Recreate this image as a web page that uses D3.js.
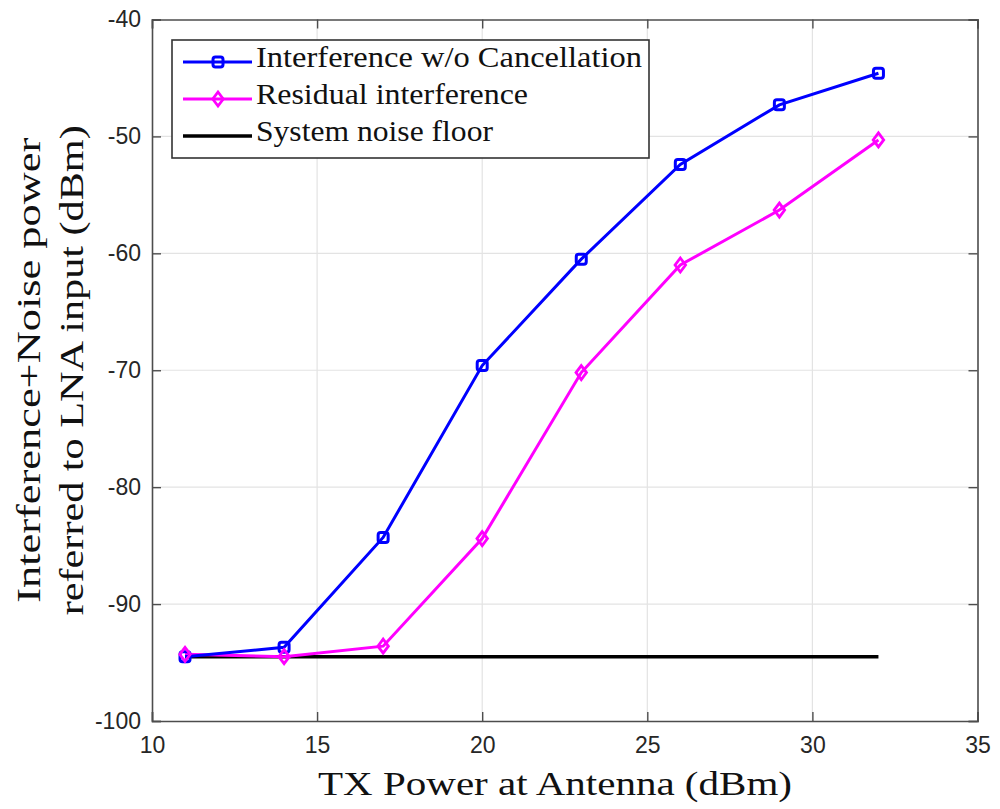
<!DOCTYPE html>
<html>
<head>
<meta charset="utf-8">
<script src="https://cdn.jsdelivr.net/npm/d3@7"></script>
<style>
  html, body { margin: 0; padding: 0; background: #fff; }
  svg { display: block; }
</style>
</head>
<body>
<svg id="chart" width="1000" height="809"></svg>
<script>
// TX power levels (dBm) at which measurements were taken
const txPower = [11, 14, 17, 20, 23, 26, 29, 32];
// Interference without cancellation (dBm)
const interferenceNoCancel = [-94.5, -93.7, -84.3, -69.6, -60.5, -52.4, -47.3, -44.6];
// Residual interference after cancellation (dBm)
const residualInterference = [-94.3, -94.5, -93.6, -84.4, -70.2, -61.0, -56.3, -50.3];
// System noise floor (dBm)
const noiseFloor = [-94.5, -94.5, -94.5, -94.5, -94.5, -94.5, -94.5, -94.5];

const xTicks = [10, 15, 20, 25, 30, 35];
const yTicks = [-100, -90, -80, -70, -60, -50, -40];

const seriesNames = ["Interference w/o Cancellation", "Residual interference", "System noise floor"];
const xLabel = "TX Power at Antenna (dBm)";
const yLabelLines = ["Interference+Noise power", "referred to LNA input (dBm)"];

const svg = d3.select("#chart");
const serif = "'Liberation Serif', 'Times New Roman', serif";

const x = d3.scaleLinear().domain([10, 35]).range([152, 977.5]);
const y = d3.scaleLinear().domain([-100, -40]).range([721, 19.5]);

const axisColor = "#4d4d4d";
const gridColor = "#e3e3e3";

// grid
const g = svg.append("g");
g.selectAll(".vgrid").data(xTicks.slice(1, -1)).enter().append("line")
  .attr("x1", d => x(d)).attr("x2", d => x(d))
  .attr("y1", y(-40)).attr("y2", y(-100))
  .attr("stroke", gridColor).attr("stroke-width", 1.2);
g.selectAll(".hgrid").data(yTicks.slice(1, -1)).enter().append("line")
  .attr("x1", x(10)).attr("x2", x(35))
  .attr("y1", d => y(d)).attr("y2", d => y(d))
  .attr("stroke", gridColor).attr("stroke-width", 1.2);

// axes (ticks pointing inward, MATLAB style)
const xAxis = d3.axisBottom(x).tickValues(xTicks).tickSize(-9).tickPadding(16).tickFormat(d3.format("d"));
const yAxis = d3.axisLeft(y).tickValues(yTicks).tickSize(-9).tickPadding(11).tickFormat(d => d3.format("d")(d).replace("−", "-"));
const xTop = d3.axisTop(x).tickValues(xTicks).tickSize(-9).tickFormat("");
const yRight = d3.axisRight(y).tickValues(yTicks).tickSize(-9).tickFormat("");

function styleAxis(sel) {
  sel.select(".domain").attr("stroke", axisColor).attr("stroke-width", 1.6);
  sel.selectAll(".tick line").attr("stroke", axisColor).attr("stroke-width", 1.4);
  sel.selectAll(".tick text").attr("fill", "#262626")
    .style("font-family", "'Liberation Sans', Arial, sans-serif").style("font-size", "23px");
}
svg.append("g").attr("transform", `translate(0,${y(-100)})`).call(xAxis).call(styleAxis);
svg.append("g").attr("transform", `translate(${x(10)},0)`).call(yAxis).call(styleAxis);
svg.append("g").attr("transform", `translate(0,${y(-40)})`).call(xTop).call(styleAxis);
svg.append("g").attr("transform", `translate(${x(35)},0)`).call(yRight).call(styleAxis);

// series
const line = d3.line().x((d, i) => x(txPower[i])).y(d => y(d));

svg.append("path").datum(noiseFloor).attr("d", line)
  .attr("fill", "none").attr("stroke", "#000").attr("stroke-width", 3.5);

svg.append("path").datum(residualInterference).attr("d", line)
  .attr("fill", "none").attr("stroke", "#ff00ff").attr("stroke-width", 3);
svg.append("path").datum(interferenceNoCancel).attr("d", line)
  .attr("fill", "none").attr("stroke", "#0000ff").attr("stroke-width", 3);

const diamond = (cx, cy, r) => `M${cx},${cy - r}L${cx + r * 0.75},${cy}L${cx},${cy + r}L${cx - r * 0.75},${cy}Z`;

svg.selectAll(".sq").data(interferenceNoCancel).enter().append("rect")
  .attr("x", (d, i) => x(txPower[i]) - 5).attr("y", d => y(d) - 5)
  .attr("width", 10).attr("height", 10).attr("rx", 2.5)
  .attr("fill", "none").attr("stroke", "#0000ff").attr("stroke-width", 3);

svg.selectAll(".dm").data(residualInterference).enter().append("path")
  .attr("d", (d, i) => diamond(x(txPower[i]), y(d), 7))
  .attr("fill", "none").attr("stroke", "#ff00ff").attr("stroke-width", 2.8);

// legend
const lg = svg.append("g");
lg.append("rect").attr("x", 172).attr("y", 40).attr("width", 477).attr("height", 118)
  .attr("fill", "#fff").attr("stroke", "#333").attr("stroke-width", 1.6);
const rows = [62, 99, 136];
const legendColors = ["#0000ff", "#ff00ff", "#000"];
const legendWidths = [386, 272, 237];
rows.forEach((ry, i) => {
  lg.append("line").attr("x1", 183).attr("x2", 252).attr("y1", ry).attr("y2", ry)
    .attr("stroke", legendColors[i]).attr("stroke-width", i === 2 ? 3.5 : 3);
  if (i === 0) {
    lg.append("rect").attr("x", 213).attr("y", ry - 5).attr("width", 10).attr("height", 10).attr("rx", 2.5)
      .attr("fill", "none").attr("stroke", "#0000ff").attr("stroke-width", 3);
  } else if (i === 1) {
    lg.append("path").attr("d", diamond(218, ry, 7))
      .attr("fill", "none").attr("stroke", "#ff00ff").attr("stroke-width", 2.8);
  }
  lg.append("text").attr("x", 256).attr("y", ry + 5).text(seriesNames[i])
    .attr("textLength", legendWidths[i]).attr("lengthAdjust", "spacingAndGlyphs")
    .attr("fill", "#111").style("font-family", serif).style("font-size", "29px");
});

// axis labels
svg.append("text").attr("x", 555).attr("y", 795).attr("text-anchor", "middle")
  .text(xLabel).attr("textLength", 474).attr("lengthAdjust", "spacingAndGlyphs")
  .attr("fill", "#111").style("font-family", serif).style("font-size", "33px");

const yl = svg.append("text").attr("transform", `translate(0,${(y(-40) + y(-100)) / 2}) rotate(-90)`)
  .attr("text-anchor", "middle").attr("fill", "#111")
  .style("font-family", serif).style("font-size", "33px");
yl.append("tspan").attr("x", 0).attr("y", 40).text(yLabelLines[0])
  .attr("textLength", 465).attr("lengthAdjust", "spacingAndGlyphs");
yl.append("tspan").attr("x", 0).attr("y", 83).text(yLabelLines[1])
  .attr("textLength", 490).attr("lengthAdjust", "spacingAndGlyphs");
</script>
</body>
</html>
